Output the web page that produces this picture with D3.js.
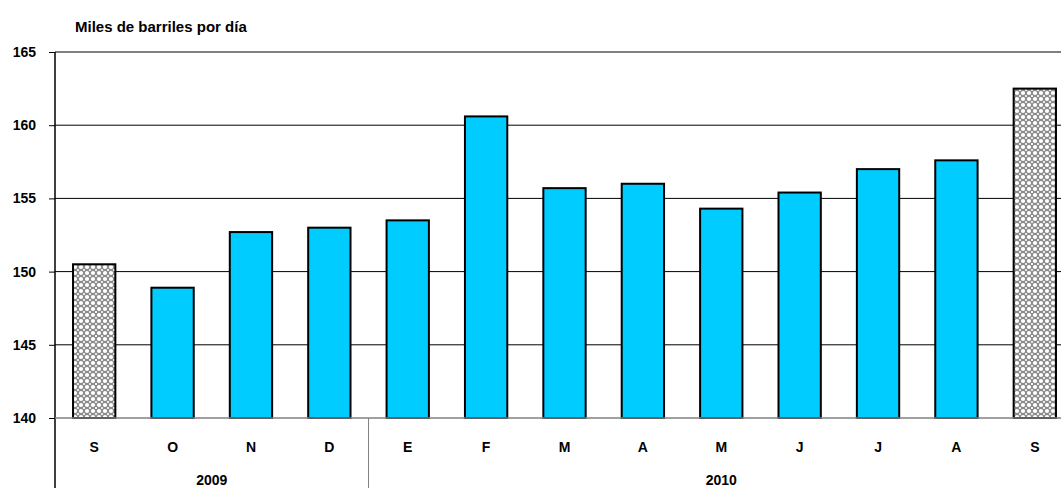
<!DOCTYPE html>
<html>
<head>
<meta charset="utf-8">
<script src="https://cdn.jsdelivr.net/npm/d3@7"></script>
<style>
  body { margin: 0; background: #fff; }
  svg { display: block; font-family: "Liberation Sans", Arial, sans-serif; font-weight: bold; }
</style>
</head>
<body>
<svg id="chart" width="1061" height="488"></svg>
<script>
const months = ["S", "O", "N", "D", "E", "F", "M", "A", "M", "J", "J", "A", "S"];
const values = [150.5, 148.9, 152.7, 153.0, 153.5, 160.6, 155.7, 156.0, 154.3, 155.4, 157.0, 157.6, 162.5];
const hatched = [true, false, false, false, false, false, false, false, false, false, false, false, true];
const years = ["2009", "2010"];
const yearSpans = [[0, 4], [4, 13]];
const yTicks = [140, 145, 150, 155, 160, 165];
const title = "Miles de barriles por día";

(function () {
const svg = d3.select("#chart");
const mLeft = 55, mTop = 52, mBottom = 418, rightEnd = 1074;
const FONT = "Liberation Sans, Arial, sans-serif";

const x = d3.scaleBand().domain(d3.range(months.length)).range([mLeft, rightEnd]).paddingInner(0.46).paddingOuter(0.23);
const step = (rightEnd - mLeft) / months.length;
const y = d3.scaleLinear().domain([140, 165]).range([mBottom, mTop]);

// pattern
const defs = svg.append("defs");
const pat = defs.append("pattern").attr("id", "hatch").attr("patternUnits", "userSpaceOnUse")
  .attr("width", 6).attr("height", 6);
pat.append("rect").attr("width", 6).attr("height", 6).attr("fill", "#8c8c8c");
pat.append("circle").attr("cx", 3).attr("cy", 3).attr("r", 2.1).attr("fill", "#fff");
[[0,0],[6,0],[0,6],[6,6]].forEach(p => pat.append("circle").attr("cx", p[0]).attr("cy", p[1]).attr("r", 1.1).attr("fill", "#fff"));

// title
svg.append("text").attr("x", 75).attr("y", 32).attr("font-size", 15).attr("fill", "#000").text(title);

// gridlines
svg.append("g").selectAll("line").data(yTicks.filter(d => d !== 140 && d !== 165)).join("line")
  .attr("x1", mLeft).attr("x2", 1061).attr("y1", d => y(d)).attr("y2", d => y(d))
  .attr("stroke", "#000").attr("stroke-width", 1);
svg.append("line").attr("x1", mLeft).attr("x2", 1061).attr("y1", y(165)).attr("y2", y(165))
  .attr("stroke", "#808080").attr("stroke-width", 2);

// y axis
const yAxis = d3.axisLeft(y).tickValues(yTicks).tickSize(6).tickPadding(13).tickFormat(d3.format("d"));
const ya = svg.append("g").attr("transform", `translate(${mLeft},0)`).call(yAxis);
ya.select(".domain").remove();
ya.selectAll("line").attr("stroke", "#000");
ya.selectAll("text").attr("font-size", 14).attr("font-family", FONT)
  .attr("font-weight", "bold").attr("fill", "#000");
svg.append("line").attr("x1", mLeft).attr("x2", mLeft).attr("y1", mTop).attr("y2", 488)
  .attr("stroke", "#000").attr("stroke-width", 1.5);

// bars
svg.append("g").selectAll("rect").data(values).join("rect")
  .attr("x", (d, i) => x(i)).attr("width", x.bandwidth())
  .attr("y", d => y(d)).attr("height", d => y(140) - y(d))
  .attr("fill", (d, i) => hatched[i] ? "url(#hatch)" : "#00ccff")
  .attr("stroke", "#000").attr("stroke-width", 2);

// x axis line
svg.append("line").attr("x1", mLeft).attr("x2", 1061).attr("y1", mBottom).attr("y2", mBottom)
  .attr("stroke", "#808080").attr("stroke-width", 1.5);

// month labels
const xAxis = d3.axisBottom(x).tickSize(0).tickPadding(0).tickFormat(i => months[i]);
const xa = svg.append("g").attr("transform", `translate(0,${mBottom})`).call(xAxis);
xa.select(".domain").remove();
xa.selectAll("text").attr("y", 29).attr("dy", "0.35em").attr("font-size", 14)
  .attr("font-family", FONT).attr("font-weight", "bold").attr("fill", "#000");

// year separators & labels
yearSpans.forEach((s, k) => {
  const x0 = mLeft + s[0] * step, x1 = mLeft + s[1] * step;
  if (k > 0) {
    svg.append("line").attr("x1", x0).attr("x2", x0).attr("y1", mBottom).attr("y2", 488)
      .attr("stroke", "#808080").attr("stroke-width", 1);
  }
  svg.append("text").attr("x", (x0 + x1) / 2).attr("y", 485)
    .attr("text-anchor", "middle").attr("font-size", 14).attr("fill", "#000").text(years[k]);
});
})();
</script>
</body>
</html>
